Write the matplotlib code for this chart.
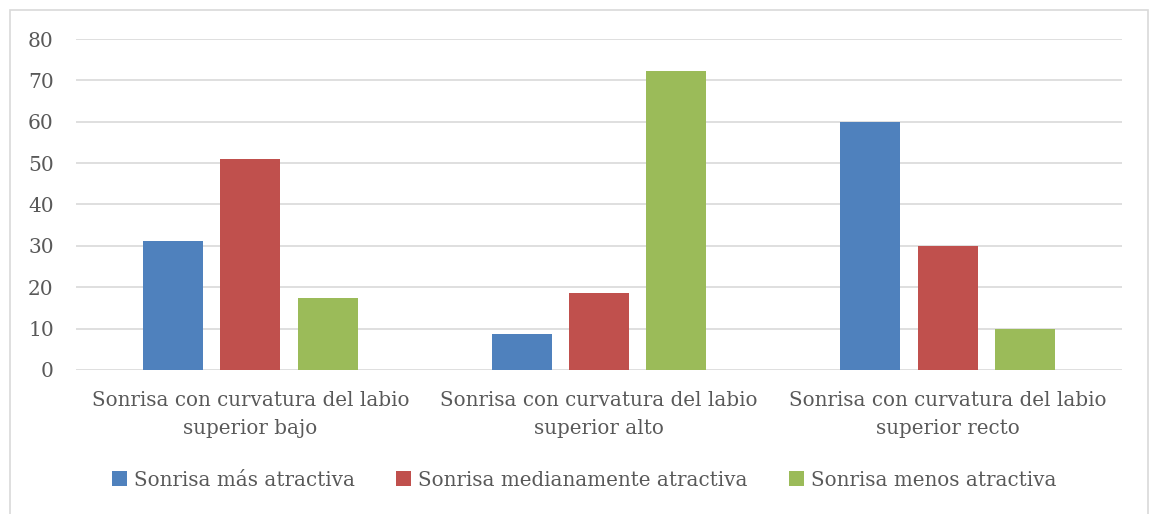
import matplotlib.pyplot as plt
import numpy as np
from matplotlib.patches import Rectangle

categorias = ["Sonrisa con curvatura del labio\nsuperior bajo",
              "Sonrisa con curvatura del labio\nsuperior alto",
              "Sonrisa con curvatura del labio\nsuperior recto"]
series = ["Sonrisa más atractiva", "Sonrisa medianamente atractiva", "Sonrisa menos atractiva"]
mas = [31.2, 8.7, 60.0]
mediana = [51.0, 18.6, 30.0]
menos = [17.4, 72.3, 10.0]
colores = ["#4f81bd", "#c0504d", "#9bbb59"]

plt.rcParams['font.family'] = ['DejaVu Serif']
gris = "#595959"

fig = plt.figure(figsize=(11.5, 5.14), dpi=100)
ax = fig.add_axes([0.0661, 0.2802, 0.9096, 0.6439])

# borde del grafico
fig.patches.append(Rectangle((10/1150, -0.01), 1138/1150, 1 - 10/514 + 0.01,
                             transform=fig.transFigure, fill=False,
                             edgecolor="#d9d9d9", linewidth=1.2))

x = np.arange(len(categorias))
w = 0.172
paso = 0.222
for i, (vals, nombre) in enumerate(zip([mas, mediana, menos], series)):
    ax.bar(x + (i - 1) * paso, vals, w, color=colores[i], label=nombre, zorder=3)

ax.set_xlim(-0.5, 2.5)
ax.set_ylim(0, 80)
ax.set_yticks(range(0, 81, 10))
ax.yaxis.grid(True, color="#d9d9d9", linewidth=1.2, zorder=0)
for s in ax.spines.values():
    s.set_visible(False)
ax.tick_params(length=0, colors=gris, labelsize=14.5)
ax.tick_params(axis='y', pad=16)
ax.tick_params(axis='x', pad=15)
ax.set_xticks(x)
ax.set_xticklabels(categorias, color=gris, fontsize=14.3, linespacing=1.6)

leg = fig.legend(loc="center", bbox_to_anchor=(0.508, 1 - 480/514), ncol=3,
                 frameon=False, fontsize=14.3, handlelength=0.75, handleheight=0.75,
                 handletextpad=0.35, columnspacing=2.1)
for t in leg.get_texts():
    t.set_color(gris)

fig.savefig("out.png", dpi=100)
